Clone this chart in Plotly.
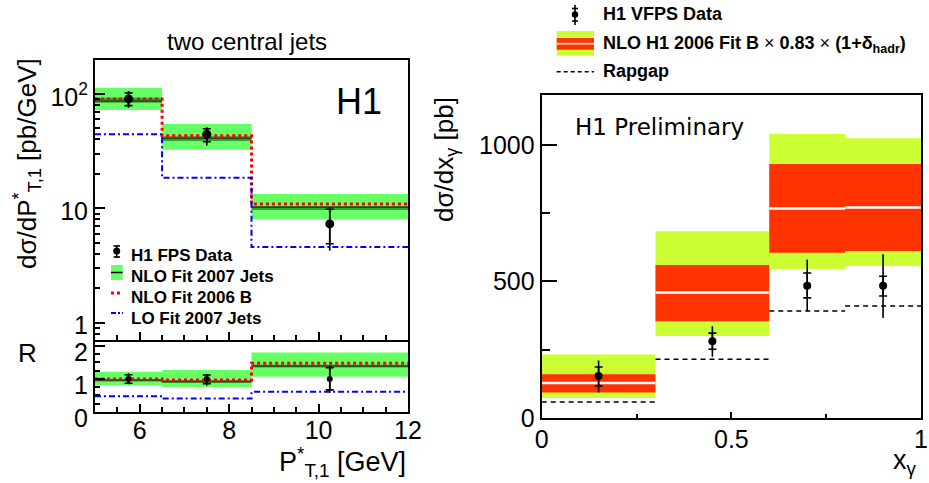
import plotly.graph_objects as go

# ---------------- data ----------------
# left: two central jets, dsigma/dPT*
pt_edges = [5.0, 6.5, 8.5, 12.0]
pt_centers = [5.75, 7.5, 10.25]
fps_data = [90.3, 44.4, 7.3]
fps_tot_hi = [106.0, 51.0, 10.2]
fps_tot_lo = [75.7, 35.3, 4.26]
fps_stat_hi = [102.0, 49.6, 9.8]
fps_stat_lo = [78.9, 38.2, 4.9]
nlo07 = [86.7, 40.9, 10.2]
nlo07_hi = [113.0, 54.6, 13.3]
nlo07_lo = [72.3, 32.5, 8.0]
nlo07_scl_hi = [92.6, 42.7, 10.48]
nlo07_scl_lo = [83.8, 38.8, 9.67]
nlo06 = [90.3, 43.1, 10.9]
lo07 = [44.4, 18.5, 4.6]

# left: ratio panel R
r_data = [1.0, 1.0, 1.0]
r_tot_hi = [1.17, 1.15, 1.40]
r_tot_lo = [0.84, 0.80, 0.58]
r_stat_hi = [1.13, 1.12, 1.34]
r_stat_lo = [0.87, 0.86, 0.67]
r_nlo07 = [0.96, 0.92, 1.39]
r_nlo07_hi = [1.22, 1.27, 1.80]
r_nlo07_lo = [0.80, 0.76, 1.07]
r_nlo07_scl_hi = [1.00, 0.96, 1.43]
r_nlo07_scl_lo = [0.92, 0.88, 1.35]
r_nlo06 = [1.00, 0.97, 1.48]
r_lo07 = [0.48, 0.41, 0.61]

# right: dsigma/dx_gamma
xg_edges = [0.0, 0.3, 0.6, 0.8, 1.0]
xg_centers = [0.15, 0.45, 0.7, 0.9]
vfps = [154, 281, 484, 484]
vfps_tot_hi = [211, 336, 580, 600]
vfps_tot_lo = [93, 224, 391, 366]
vfps_stat_hi = [187, 311, 531, 519]
vfps_stat_lo = [117, 252, 440, 447]
nlo06b = [128, 460, 767, 771]
nlo06b_in_hi = [160, 560, 930, 930]
nlo06b_in_lo = [93, 354, 605, 612]
nlo06b_out_hi = [233, 684, 1040, 1025]
nlo06b_out_lo = [73, 300, 546, 557]
rapgap = [59, 215, 392, 410]

# ---------------- helpers ----------------
W, H = 929, 483
FONT = "Liberation Sans"


def px(x):
    return x / W


def py(y):
    return 1 - y / H


def boxes(edges, lo, hi):
    xs, ys = [], []
    for i in range(len(lo)):
        xs += [edges[i], edges[i + 1], edges[i + 1], edges[i], edges[i], None]
        ys += [lo[i], lo[i], hi[i], hi[i], lo[i], None]
    return xs, ys


def segs(edges, vals):
    xs, ys = [], []
    for i in range(len(vals)):
        xs += [edges[i], edges[i + 1], None]
        ys += [vals[i], vals[i], None]
    return xs, ys


def step(edges, vals):
    return list(edges), list(vals) + [vals[-1]]


fig = go.Figure()


def band(edges, lo, hi, color, xa, ya):
    xs, ys = boxes(edges, lo, hi)
    fig.add_trace(go.Scatter(x=xs, y=ys, fill="toself", fillcolor=color, mode="lines",
                             line=dict(width=0, color=color), xaxis=xa, yaxis=ya,
                             hoverinfo="skip", showlegend=False))


def data_pts(xc, yv, tot_hi, tot_lo, st_hi, st_lo, xa, ya, msize):
    fig.add_trace(go.Scatter(
        x=xc, y=yv, mode="markers", xaxis=xa, yaxis=ya, showlegend=False,
        marker=dict(color="black", size=msize),
        error_y=dict(type="data", symmetric=False,
                     array=[h - v for h, v in zip(tot_hi, yv)],
                     arrayminus=[v - l for v, l in zip(yv, tot_lo)],
                     color="black", thickness=1.6, width=0)))
    fig.add_trace(go.Scatter(
        x=xc, y=yv, mode="markers", xaxis=xa, yaxis=ya, showlegend=False,
        marker=dict(color="rgba(0,0,0,0)", size=1),
        error_y=dict(type="data", symmetric=False,
                     array=[h - v for h, v in zip(st_hi, yv)],
                     arrayminus=[v - l for v, l in zip(yv, st_lo)],
                     color="black", thickness=1.6, width=4)))


GREEN = "#66ff66"
DGREEN = "#33a033"
LINEG = "#1d4a1d"
BLUE_DASH = "6px,3px,2px,3px"

# ---------------- left panels ----------------
for xa, ya, lo_, hi_, slo, shi, mid, red, blue, dat, th, tl, sh, sl, ms in [
    ("x", "y", nlo07_lo, nlo07_hi, nlo07_scl_lo, nlo07_scl_hi, nlo07, nlo06, lo07,
     fps_data, fps_tot_hi, fps_tot_lo, fps_stat_hi, fps_stat_lo, 9),
    ("x2", "y2", r_nlo07_lo, r_nlo07_hi, r_nlo07_scl_lo, r_nlo07_scl_hi, r_nlo07, r_nlo06, r_lo07,
     r_data, r_tot_hi, r_tot_lo, r_stat_hi, r_stat_lo, 6),
]:
    band(pt_edges, lo_, hi_, GREEN, xa, ya)
    band(pt_edges, slo, shi, DGREEN, xa, ya)
    sx, sy = segs(pt_edges, mid)
    fig.add_trace(go.Scatter(x=sx, y=sy, mode="lines", line=dict(color=LINEG, width=1.5),
                             xaxis=xa, yaxis=ya, showlegend=False, hoverinfo="skip"))
    stx, sty = step(pt_edges, red)
    fig.add_trace(go.Scatter(x=stx, y=sty, mode="lines", line_shape="hv",
                             line=dict(color="#ff0000", width=3, dash="3px,3px"),
                             xaxis=xa, yaxis=ya, showlegend=False, hoverinfo="skip"))
    stx, sty = step(pt_edges, blue)
    fig.add_trace(go.Scatter(x=stx, y=sty, mode="lines", line_shape="hv",
                             line=dict(color="#0000ff", width=2, dash=BLUE_DASH),
                             xaxis=xa, yaxis=ya, showlegend=False, hoverinfo="skip"))
    data_pts(pt_centers, dat, th, tl, sh, sl, xa, ya, ms)

# ---------------- right panel ----------------
band(xg_edges, nlo06b_out_lo, nlo06b_out_hi, "#ccff33", "x3", "y3")
band(xg_edges, nlo06b_in_lo, nlo06b_in_hi, "#ff3300", "x3", "y3")
sx, sy = segs(xg_edges, nlo06b)
fig.add_trace(go.Scatter(x=sx, y=sy, mode="lines", line=dict(color="#ffffff", width=2.5),
                         xaxis="x3", yaxis="y3", showlegend=False, hoverinfo="skip"))
sx, sy = segs(xg_edges, rapgap)
fig.add_trace(go.Scatter(x=sx, y=sy, mode="lines", line=dict(color="black", width=1.5, dash="5px,4px"),
                         xaxis="x3", yaxis="y3", showlegend=False, hoverinfo="skip"))
data_pts(xg_centers, vfps, vfps_tot_hi, vfps_tot_lo, vfps_stat_hi, vfps_stat_lo, "x3", "y3", 8)

# ---------------- axes ----------------
tickfont = dict(family=FONT, size=25, color="black")
common = dict(showline=True, linecolor="black", linewidth=2, mirror=True, showgrid=False,
              zeroline=False, ticks="inside", tickcolor="black", tickwidth=1.5,
              automargin=False)

left_x_dom = [px(95), px(408)]
minor_pt = [v / 2 for v in range(10, 25) if v % 4 != 0]

fig.update_layout(
    template="none",
    width=W, height=H, margin=dict(l=0, r=0, t=0, b=0, pad=0), autosize=False,
    paper_bgcolor="white", plot_bgcolor="white",
    font=dict(family=FONT, color="black"),
    xaxis=dict(domain=left_x_dom, range=[5, 12], anchor="y", tickvals=[6, 8, 10, 12],
               showticklabels=False, ticklen=8,
               minor=dict(tickmode="array", tickvals=minor_pt, ticklen=5, ticks="inside",
                          tickcolor="black", tickwidth=1.5), **common),
    yaxis=dict(domain=[py(340), py(60)], type="log", range=[-0.151, 2.296], anchor="x",
               tickvals=[1, 10, 100], ticktext=["1", "10", "10<sup>2</sup>"], ticklen=10,
               tickfont=tickfont, ticklabelshift=3,
               minor=dict(tickmode="array",
                          tickvals=[0.8, 0.9, 2, 3, 4, 5, 6, 7, 8, 9,
                                    20, 30, 40, 50, 60, 70, 80, 90],
                          ticklen=5, ticks="inside", tickcolor="black", tickwidth=1.5),
               **common),
    xaxis2=dict(domain=left_x_dom, range=[5, 12], anchor="y2", tickvals=[6, 8, 10, 12],
                ticklen=8, tickfont=tickfont, ticklabelstandoff=-5,
                minor=dict(tickmode="array", tickvals=minor_pt, ticklen=5, ticks="inside",
                           tickcolor="black", tickwidth=1.5), **common),
    yaxis2=dict(domain=[py(412), py(342)], range=[0, 2.12], anchor="x2",
                tickvals=[0, 1, 2], ticklen=10, tickfont=tickfont, ticklabelshift=6,
                minor=dict(tickmode="array",
                           tickvals=[0.25, 0.5, 0.75, 1.25, 1.5, 1.75],
                           ticklen=5, ticks="inside", tickcolor="black", tickwidth=1.5),
                **common),
    xaxis3=dict(domain=[px(541.7), px(921)], range=[0, 1], anchor="y3",
                tickvals=[0, 0.5, 1], ticktext=["0", "0.5", "1"], ticklen=6, tickfont=tickfont,
                ticklabelstandoff=-2,
                minor=dict(tickmode="array", tickvals=[0.25, 0.75], ticklen=4, ticks="inside",
                           tickcolor="black", tickwidth=1.5), **common),
    yaxis3=dict(domain=[py(418), py(95)], range=[0, 1183], anchor="x3",
                tickvals=[0, 500, 1000], ticklen=15, tickfont=tickfont,
                minor=dict(tickmode="array", tickvals=[250, 750], ticklen=8, ticks="inside",
                           tickcolor="black", tickwidth=1.5), **common),
)

# ---------------- texts ----------------
ann = []


def text(x, y, s, size, xanchor="left", yanchor="middle", angle=0, family=FONT):
    ann.append(dict(x=px(x), y=py(y), xref="paper", yref="paper", text=s, showarrow=False,
                    xanchor=xanchor, yanchor=yanchor, textangle=angle,
                    font=dict(family=family, size=size, color="black")))


text(247, 42, "two central jets", 24, xanchor="center")
text(359, 102, "H1", 36, xanchor="center")
text(27, 164, "dσ/dP<sup>*</sup><sub>T,1</sub> [pb/GeV]", 26, xanchor="center", angle=-90)
text(27, 353, "R", 26, xanchor="center")
text(408, 462, "P<sup>*</sup><sub>T,1</sub> [GeV]", 27, xanchor="right")
text(445, 160, "dσ/dx<sub>γ</sub> [pb]", 26, xanchor="center", angle=-90)
text(919, 462, "x<sub>γ</sub>", 27, xanchor="right")
text(573, 127, "H1 Preliminary", 23, family="DejaVu Sans")

# left legend
text(129, 255, "<b>H1 FPS Data</b>", 17)
text(129, 276, "<b>NLO Fit 2007 Jets</b>", 17)
text(129, 297, "<b>NLO Fit 2006 B</b>", 17)
text(129, 318, "<b>LO Fit 2007 Jets</b>", 17)
# right legend
text(601, 14, "<b>H1 VFPS Data</b>", 18)
text(601, 45, "<b>NLO H1 2006 Fit B</b> × <b>0.83</b> × <b>(1+δ<sub>hadr</sub>)</b>", 18)
text(601, 71, "<b>Rapgap</b>", 18)

shapes = []


def pline(x0, y0, x1, y1, color="black", width=1.6, dash=None):
    d = dict(type="line", xref="paper", yref="paper", x0=px(x0), y0=py(y0), x1=px(x1), y1=py(y1),
             line=dict(color=color, width=width))
    if dash:
        d["line"]["dash"] = dash
    shapes.append(d)


def prect(x0, y0, x1, y1, color):
    shapes.append(dict(type="rect", xref="paper", yref="paper", x0=px(x0), y0=py(y0),
                       x1=px(x1), y1=py(y1), fillcolor=color, line=dict(width=0)))


def pdot(x, y, r):
    shapes.append(dict(type="circle", xref="paper", yref="paper", x0=px(x - r), y0=py(y - r),
                       x1=px(x + r), y1=py(y + r), fillcolor="black", line=dict(width=0)))


# left legend symbols
pline(116.7, 245, 116.7, 258)
pline(113.5, 246, 120, 246)
pline(113.5, 257, 120, 257)
pdot(116.7, 251, 3.5)
prect(111, 265, 122.7, 280, GREEN)
pline(111, 272.5, 122.7, 272.5, color="black", width=1.5)
pline(111, 293, 123, 293, color="#ff0000", width=3, dash="3px,3px")
pline(111, 313, 123, 313, color="#0000ff", width=2, dash="5px,2px,2px,2px")

# right legend symbols
pline(575, 5, 575, 25)
pline(572, 8.5, 578, 8.5)
pline(572, 21, 578, 21)
pdot(575, 14.5, 3.2)
prect(556.7, 31, 594, 55.7, "#ccff33")
prect(556.7, 38, 594, 49.7, "#ff3300")
pline(556.7, 43.8, 594, 43.8, color="#ffbbaa", width=2)
pline(556.7, 71.7, 594, 71.7, color="black", width=1.5, dash="4px,3px")

fig.update_layout(annotations=ann, shapes=shapes)
fig.write_html("out.html")
